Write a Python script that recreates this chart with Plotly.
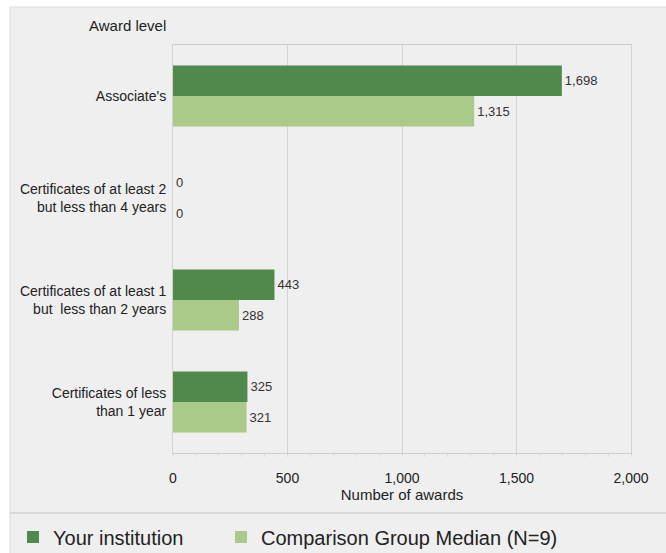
import plotly.graph_objects as go

categories = [
    "Associate's",
    "Certificates of at least 2<br>but less than 4 years",
    "Certificates of at least 1<br>but  less than 2 years",
    "Certificates of less<br>than 1 year",
]
your_institution = [1698, 0, 443, 325]
comparison_median = [1315, 0, 288, 321]
series_names = ["Your institution", "Comparison Group Median (N=9)"]
x_ticks = [0, 500, 1000, 1500, 2000]
x_tick_labels = ["0", "500", "1,000", "1,500", "2,000"]

FONT = "Liberation Sans, Arial, sans-serif"
DARK = "#4f8a4c"
LIGHT = "#a9ca88"
BG = "#efefef"

# plot area in pixels
L, R, T, B = 173, 631, 45, 453
W, H = R - L, B - T


def px_x(p):
    return (p - L) / W


def px_y(p):
    return (B - p) / H


fig = go.Figure()
fig.add_trace(go.Bar(
    y=categories, x=your_institution, orientation="h", name=series_names[0],
    marker=dict(color=DARK, line=dict(width=0)), legend="legend",
    text=[f"{v:,}" for v in your_institution], textposition="outside",
    textfont=dict(size=13, color="#333333", family=FONT), cliponaxis=False,
))
fig.add_trace(go.Bar(
    y=categories, x=comparison_median, orientation="h", name=series_names[1],
    marker=dict(color=LIGHT, line=dict(width=0)), legend="legend2",
    text=[f"{v:,}" for v in comparison_median], textposition="outside",
    textfont=dict(size=13, color="#333333", family=FONT), cliponaxis=False,
))

legend_common = dict(orientation="h", xref="container", y=(553 - 537) / 553, yref="container",
                     yanchor="middle", xanchor="left",
                     font=dict(size=20, family=FONT, color="#222222"),
                     itemwidth=30, bgcolor="rgba(0,0,0,0)")

fig.update_layout(
    width=666, height=553,
    barmode="group", bargap=0.4, bargroupgap=0,
    paper_bgcolor="white", plot_bgcolor="rgba(0,0,0,0)",
    font=dict(family=FONT, size=14, color="#222222"),
    margin=dict(l=L, r=666 - R, t=T, b=553 - B, autoexpand=False),
    showlegend=True,
    legend=dict(x=13 / 666, **legend_common),
    legend2=dict(x=221 / 666, **legend_common),
    xaxis=dict(range=[0, 2000], tickvals=x_ticks, ticktext=x_tick_labels,
               showgrid=True, gridcolor="#d2d2d2", gridwidth=1,
               showline=True, linecolor="#cccccc", zeroline=False,
               ticks="", ticklabelstandoff=12, automargin=False,
               tickfont=dict(size=14, family=FONT, color="#222222"),
               title=dict(text="Number of awards", font=dict(size=15, family=FONT, color="#222222"), standoff=4),
               mirror=True,
               minor=dict(dtick=100, ticks="outside", ticklen=3, tickcolor="#dddddd", showgrid=False)),
    yaxis=dict(autorange="reversed", showgrid=False, showline=True, linecolor="#d2d2d2",
               mirror=True, ticks="", ticklabelstandoff=3, automargin=False,
               tickfont=dict(size=14, family=FONT, color="#222222")),
    shapes=[
        dict(type="rect", xref="paper", yref="paper", layer="below",
             x0=px_x(10), x1=px_x(668), y0=px_y(555), y1=px_y(7),
             line=dict(width=1, color="#dddddd"), fillcolor=BG),
        dict(type="line", xref="paper", yref="paper", layer="below",
             x0=px_x(10), x1=px_x(668), y0=px_y(513), y1=px_y(513),
             line=dict(width=2, color="#d8d8d8")),
    ],
    annotations=[dict(text="Award level", xref="paper", yref="paper",
                      x=px_x(168), y=px_y(26), xanchor="right", yanchor="middle",
                      showarrow=False, font=dict(size=15, family=FONT, color="#222222"))],
)
fig.write_html("out.html", config={"displayModeBar": False},
               post_script="document.body.style.margin='0';document.body.style.overflow='hidden';")
